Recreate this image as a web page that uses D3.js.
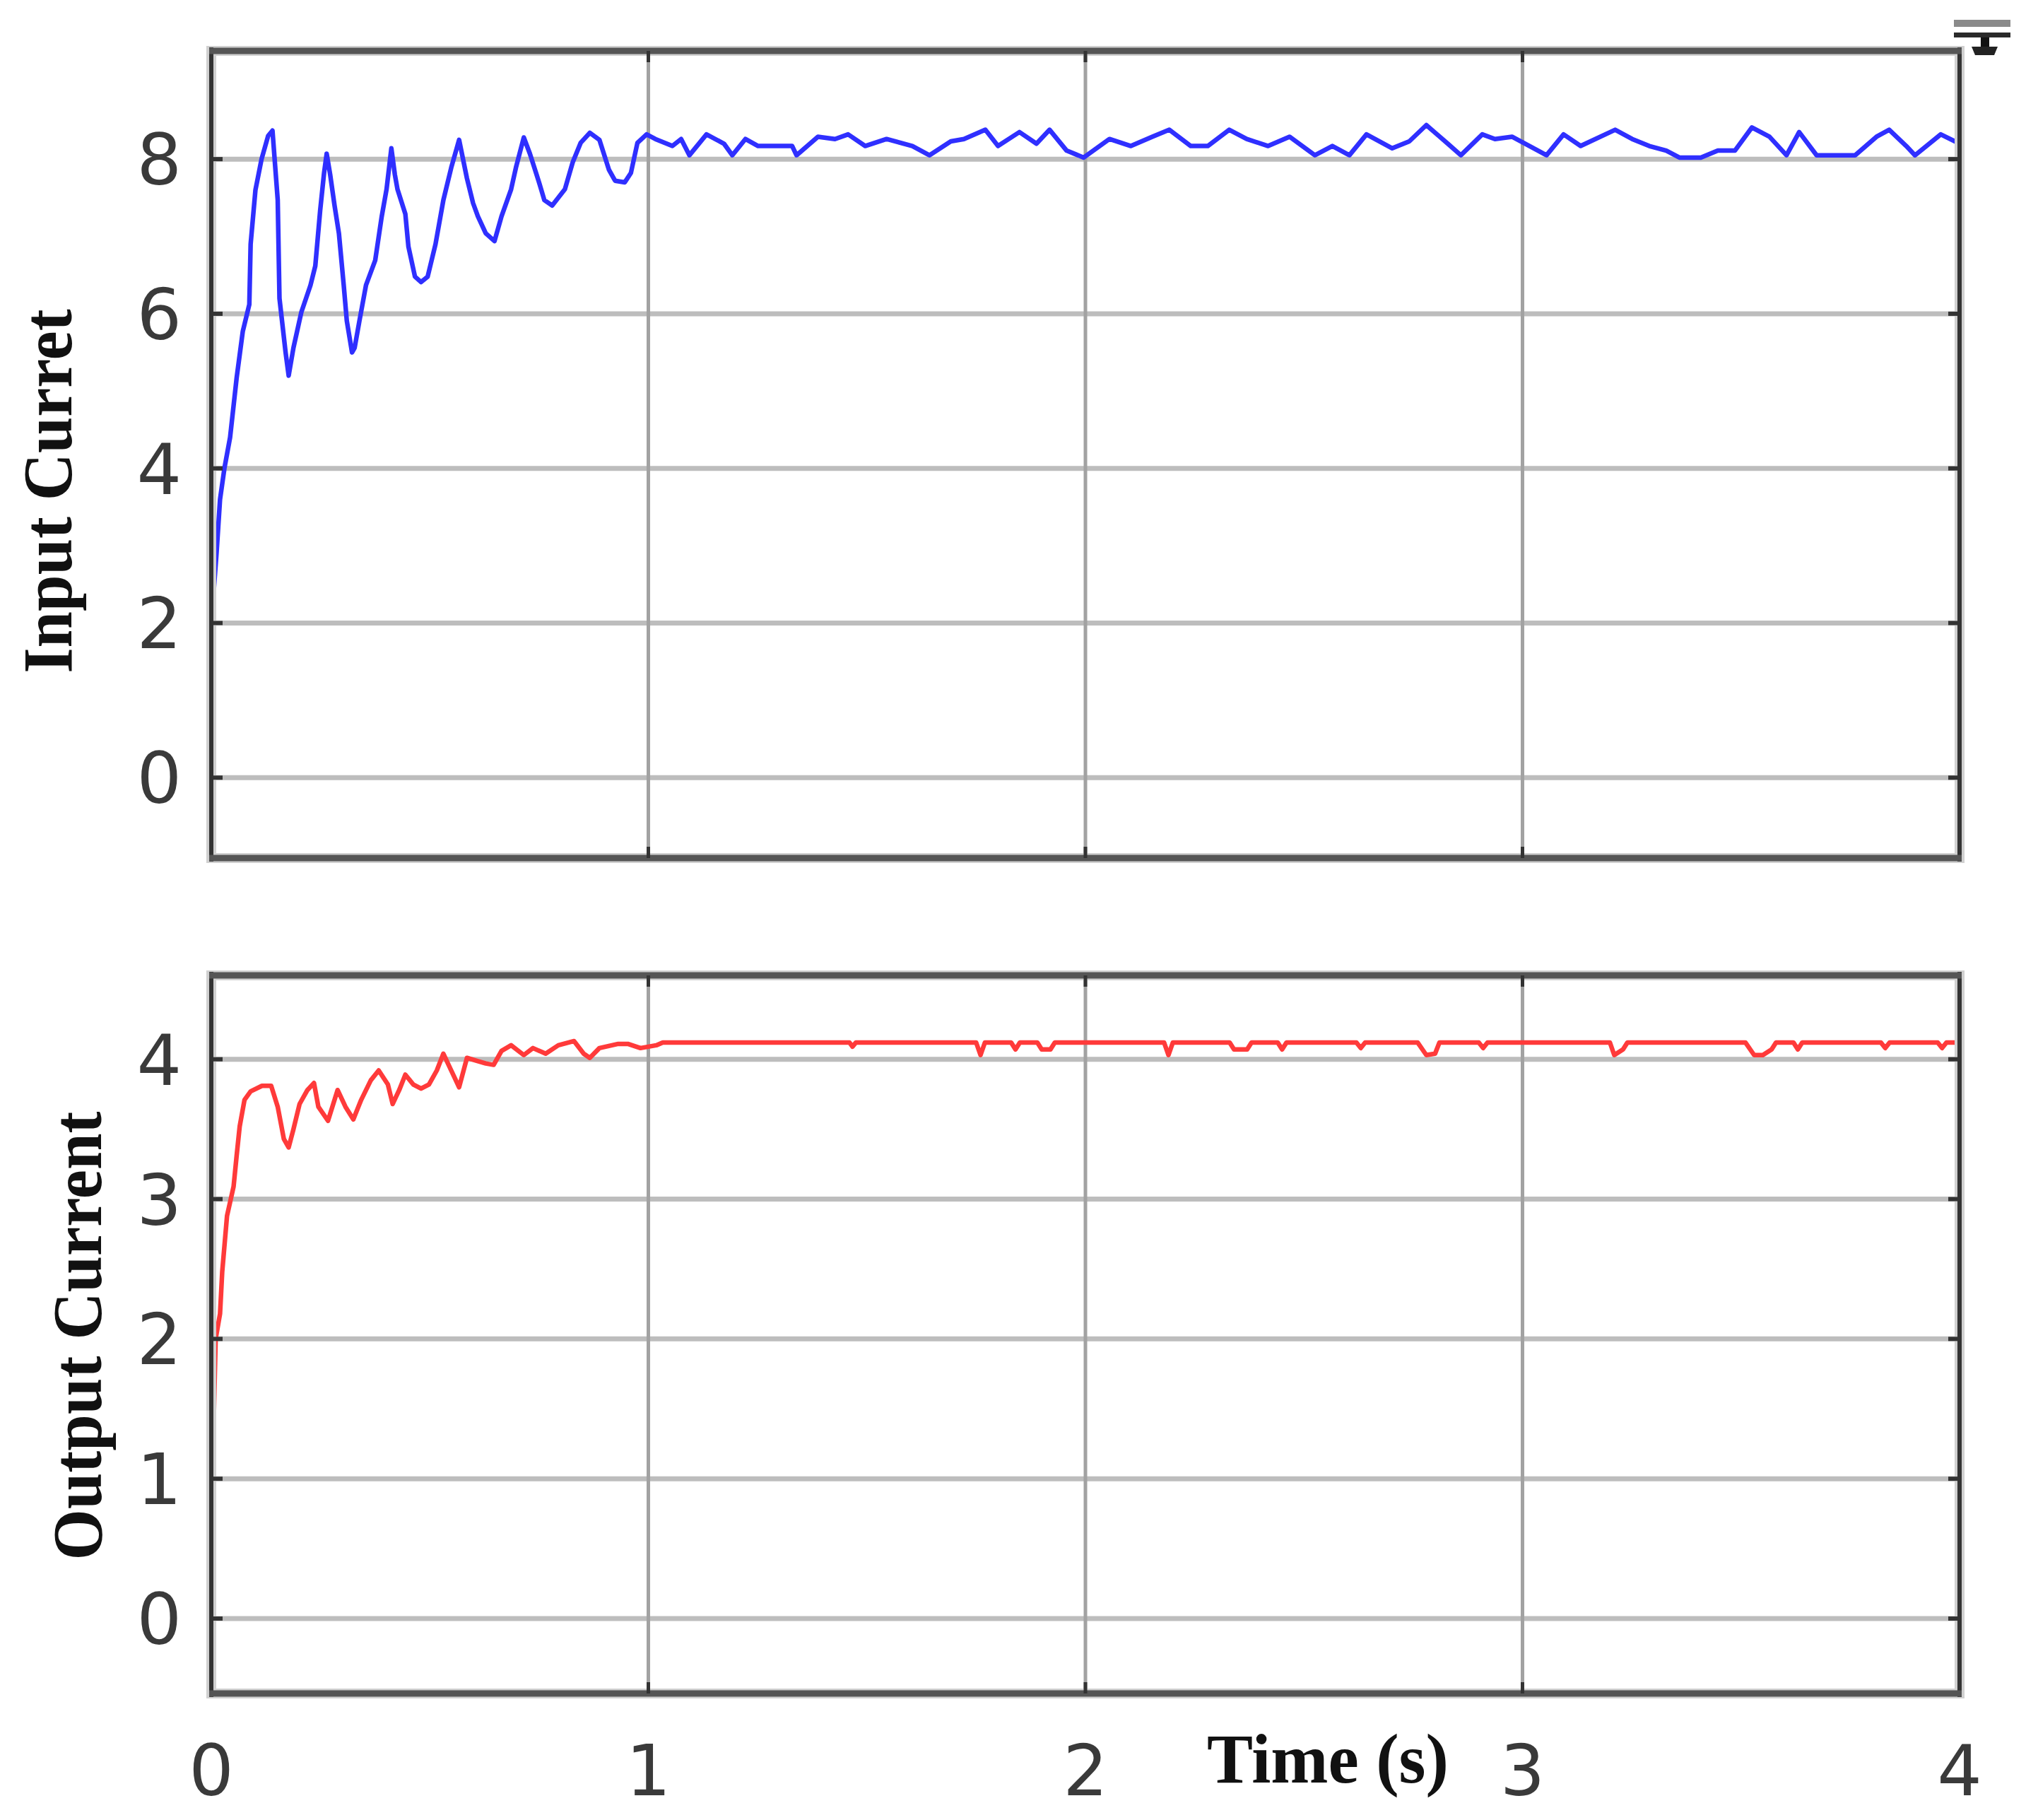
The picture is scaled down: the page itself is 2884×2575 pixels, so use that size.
<!DOCTYPE html>
<html>
<head>
<meta charset="utf-8">
<script src="https://cdn.jsdelivr.net/npm/d3@7"></script>
<style>
  body { margin: 0; background: #fff; }
  svg { display: block; }
</style>
</head>
<body>
<svg class="scope" width="2884" height="2575"></svg>
<script>
// ticks
const timeTicks = [0, 1, 2, 3, 4];
const inputTicks = [0, 2, 4, 6, 8];
const outputTicks = [0, 1, 2, 3, 4];

// input current (blue)
const inputTime = [
  0, 0.002, 0.004, 0.012, 0.02, 0.03, 0.043, 0.058, 0.072, 0.087, 0.09, 0.101, 0.115, 0.13, 0.14,
  0.152, 0.156, 0.17, 0.177, 0.188, 0.206, 0.227, 0.238, 0.249, 0.258, 0.264, 0.272, 0.282, 0.292,
  0.303, 0.31, 0.322, 0.328, 0.339, 0.354, 0.375, 0.39, 0.401, 0.412, 0.42, 0.426, 0.444, 0.451,
  0.466, 0.48, 0.495, 0.513, 0.531, 0.549, 0.567, 0.585, 0.599, 0.61, 0.628, 0.648, 0.664, 0.686,
  0.697, 0.715, 0.729, 0.751, 0.762, 0.78, 0.809, 0.827, 0.845, 0.866, 0.888, 0.91, 0.924, 0.946,
  0.96, 0.975, 0.996, 1.016, 1.055, 1.075, 1.094, 1.133, 1.173, 1.192, 1.222, 1.251, 1.329, 1.339,
  1.388, 1.427, 1.457, 1.496, 1.545, 1.604, 1.643, 1.692, 1.722, 1.771, 1.8, 1.849, 1.888, 1.918,
  1.957, 1.996, 2.055, 2.104, 2.153, 2.192, 2.241, 2.28, 2.329, 2.369, 2.418, 2.467, 2.525, 2.565,
  2.604, 2.643, 2.702, 2.741, 2.78, 2.829, 2.859, 2.908, 2.937, 2.976, 3.016, 3.055, 3.094, 3.133,
  3.212, 3.251, 3.29, 3.329, 3.359, 3.408, 3.447, 3.486, 3.525, 3.565, 3.604, 3.633, 3.673, 3.761,
  3.81, 3.839, 3.878, 3.898, 3.957, 4.0
];
const inputCurrent = [
  0, 0, 2.3, 2.9, 3.6, 4.0, 4.4, 5.17, 5.77, 6.12, 6.9, 7.6, 8.0, 8.3, 8.37,
  7.47, 6.2, 5.5, 5.2, 5.56, 6.02, 6.37, 6.62, 7.33, 7.82, 8.07, 7.8, 7.4, 7.04,
  6.37, 5.91, 5.5, 5.56, 5.91, 6.37, 6.69, 7.26, 7.61, 8.14, 7.8, 7.61, 7.29, 6.87,
  6.48, 6.41, 6.48, 6.9, 7.47, 7.89, 8.25, 7.75, 7.43, 7.26, 7.04, 6.94, 7.26, 7.61,
  7.89, 8.28, 8.07, 7.68, 7.47, 7.4, 7.61, 7.96, 8.21, 8.34, 8.25, 7.86, 7.72, 7.7,
  7.82, 8.21, 8.32, 8.26, 8.17, 8.26, 8.05, 8.32, 8.2, 8.05, 8.26, 8.17, 8.17, 8.05,
  8.29, 8.26, 8.32, 8.17, 8.26, 8.17, 8.05, 8.23, 8.26, 8.38, 8.17, 8.35, 8.2, 8.38,
  8.11, 8.02, 8.26, 8.17, 8.29, 8.38, 8.17, 8.17, 8.38, 8.26, 8.17, 8.29, 8.05, 8.17,
  8.05, 8.32, 8.14, 8.23, 8.44, 8.2, 8.05, 8.32, 8.26, 8.29, 8.17, 8.05, 8.32, 8.17,
  8.38, 8.26, 8.17, 8.11, 8.02, 8.02, 8.11, 8.11, 8.41, 8.29, 8.05, 8.35, 8.05, 8.05,
  8.29, 8.38, 8.17, 8.05, 8.32, 8.2
];

// output current (red)
const outputTime = [
  0, 0.003, 0.005, 0.01, 0.02, 0.025, 0.036, 0.051, 0.058, 0.065, 0.076, 0.09, 0.116, 0.137,
  0.152, 0.166, 0.177, 0.188, 0.202, 0.22, 0.235, 0.245, 0.267, 0.289, 0.307, 0.325, 0.343,
  0.365, 0.383, 0.404, 0.415, 0.43, 0.444, 0.462, 0.48, 0.498, 0.516, 0.531, 0.549, 0.567,
  0.585, 0.606, 0.628, 0.646, 0.664, 0.686, 0.715, 0.736, 0.765, 0.794, 0.83, 0.852, 0.866,
  0.888, 0.931, 0.953, 0.982, 1.018, 1.033,
  1.46, 1.467, 1.475, 1.75, 1.76, 1.77, 1.83, 1.84, 1.85, 1.89, 1.9, 1.92, 1.93,
  2.18, 2.19, 2.2, 2.33, 2.34, 2.37, 2.38, 2.44, 2.45, 2.46, 2.62, 2.63, 2.64,
  2.76, 2.78, 2.8, 2.81, 2.9, 2.91, 2.92, 3.2, 3.21, 3.23, 3.24,
  3.51, 3.53, 3.55, 3.57, 3.58, 3.62, 3.63, 3.64, 3.82, 3.83, 3.84, 3.95, 3.96, 3.97, 4.0
];
const outputCurrent = [
  0, 0, 1.35, 2.0, 2.18, 2.48, 2.88, 3.09, 3.31, 3.52, 3.71, 3.77, 3.81, 3.81,
  3.66, 3.43, 3.37, 3.5, 3.68, 3.78, 3.83, 3.66, 3.56, 3.78, 3.66, 3.57, 3.71,
  3.85, 3.92, 3.82, 3.68, 3.78, 3.89, 3.82, 3.79, 3.82, 3.92, 4.04, 3.92, 3.8,
  4.01, 3.99, 3.97, 3.96, 4.06, 4.1, 4.03, 4.08, 4.04, 4.1, 4.13, 4.04, 4.01,
  4.08, 4.11, 4.11, 4.08, 4.1, 4.12,
  4.12, 4.09, 4.12, 4.12, 4.03, 4.12, 4.12, 4.07, 4.12, 4.12, 4.07, 4.07, 4.12,
  4.12, 4.03, 4.12, 4.12, 4.07, 4.07, 4.12, 4.12, 4.07, 4.12, 4.12, 4.08, 4.12,
  4.12, 4.03, 4.04, 4.12, 4.12, 4.08, 4.12, 4.12, 4.03, 4.07, 4.12,
  4.12, 4.03, 4.03, 4.07, 4.12, 4.12, 4.07, 4.12, 4.12, 4.08, 4.12, 4.12, 4.08, 4.12, 4.12
];

class ScopePanel {
  constructor(svg, cfg) {
    this.svg = svg;
    this.cfg = cfg;

    this.x = d3.scaleLinear().domain([0, 4]).range([cfg.left, cfg.right]);
    this.y = d3.scaleLinear().domain(cfg.yDomain).range([cfg.bottom, cfg.top]);

    this.g = svg.append("g").attr("class", "panel");
  }

  render() {
    this.drawGrid();
    this.drawTrace();
    this.drawFrame();
    this.drawLabels();
  }

  drawGrid() {
    const { left, right, top, bottom } = this.cfg;
    const grid = this.g.append("g").attr("class", "grid");

    grid.selectAll("line.h")
      .data(this.cfg.yTicks)
      .join("line")
      .attr("class", "h")
      .attr("x1", left).attr("x2", right)
      .attr("y1", d => this.y(d)).attr("y2", d => this.y(d))
      .attr("stroke", "#bdbdbd")
      .attr("stroke-width", 7);

    grid.selectAll("line.v")
      .data(timeTicks.slice(1, -1))
      .join("line")
      .attr("class", "v")
      .attr("x1", d => this.x(d)).attr("x2", d => this.x(d))
      .attr("y1", top).attr("y2", bottom)
      .attr("stroke", "#a2a2a2")
      .attr("stroke-width", 5);
  }

  drawTrace() {
    const pts = this.cfg.time.map((t, i) => [t, this.cfg.values[i]]);
    const line = d3.line()
      .x(d => this.x(d[0]))
      .y(d => this.y(d[1]));

    this.g.append("path")
      .datum(pts)
      .attr("fill", "none")
      .attr("stroke", this.cfg.color)
      .attr("stroke-width", 6.5)
      .attr("stroke-linejoin", "round")
      .attr("d", line);
  }

  drawFrame() {
    const { left, right, top, bottom } = this.cfg;
    const frame = this.g.append("g").attr("class", "frame");

    // soft halo round the box, then the box itself
    frame.append("rect")
      .attr("x", left).attr("y", top)
      .attr("width", right - left).attr("height", bottom - top)
      .attr("fill", "none")
      .attr("stroke", "#d0d0d0")
      .attr("stroke-width", 14);

    [left, right].forEach(xx => {
      frame.append("line")
        .attr("x1", xx).attr("x2", xx)
        .attr("y1", top - 5).attr("y2", bottom + 5)
        .attr("stroke", "#333")
        .attr("stroke-width", 6);
    });
    [top, bottom].forEach(yy => {
      frame.append("line")
        .attr("x1", left - 3).attr("x2", right + 3)
        .attr("y1", yy).attr("y2", yy)
        .attr("stroke", "#555")
        .attr("stroke-width", 9);
    });

    // inward ticks on all four sides
    const tl = 16;
    frame.selectAll("line.yt")
      .data(this.cfg.yTicks.flatMap(d => [[d, left, left + tl], [d, right, right - tl]]))
      .join("line")
      .attr("class", "yt")
      .attr("x1", d => d[1]).attr("x2", d => d[2])
      .attr("y1", d => this.y(d[0])).attr("y2", d => this.y(d[0]))
      .attr("stroke", "#333")
      .attr("stroke-width", 6);

    frame.selectAll("line.xt")
      .data(timeTicks.slice(1, -1).flatMap(d => [[d, top, top + tl], [d, bottom, bottom - tl]]))
      .join("line")
      .attr("class", "xt")
      .attr("x1", d => this.x(d[0])).attr("x2", d => this.x(d[0]))
      .attr("y1", d => d[1]).attr("y2", d => d[2])
      .attr("stroke", "#333")
      .attr("stroke-width", 5);
  }

  drawLabels() {
    const cfg = this.cfg;
    this.g.append("g")
      .selectAll("text")
      .data(cfg.yTicks)
      .join("text")
      .attr("x", cfg.left - 42)
      .attr("y", d => this.y(d) + 36)
      .attr("text-anchor", "end")
      .attr("font-family", "DejaVu Sans")
      .attr("font-size", 100)
      .attr("fill", "#3a3a3a")
      .text(d => d);

    this.g.append("text")
      .attr("transform", `translate(${cfg.titleX}, ${cfg.titleY}) rotate(-90)`)
      .attr("text-anchor", "middle")
      .attr("font-family", "Liberation Serif")
      .attr("font-weight", "bold")
      .attr("font-size", 100)
      .attr("textLength", cfg.titleLength)
      .attr("lengthAdjust", "spacingAndGlyphs")
      .attr("fill", "#111")
      .text(cfg.title);
  }
}

const svg = d3.select("svg.scope");

const inputPanel = new ScopePanel(svg, {
  left: 299, right: 2773, top: 72, bottom: 1214,
  yDomain: [-1.04, 9.4],
  yTicks: inputTicks,
  time: inputTime, values: inputCurrent,
  color: "#2f2fff",
  title: "Input Curret", titleX: 101, titleY: 695, titleLength: 515
});
inputPanel.render();

const outputPanel = new ScopePanel(svg, {
  left: 299, right: 2773, top: 1380, bottom: 2396,
  yDomain: [-0.536, 4.6],
  yTicks: outputTicks,
  time: outputTime, values: outputCurrent,
  color: "#ff3a3a",
  title: "Output Current", titleX: 143, titleY: 1890, titleLength: 635
});
outputPanel.render();

// shared time axis labels under the lower panel
svg.append("g")
  .selectAll("text")
  .data(timeTicks)
  .join("text")
  .attr("x", d => outputPanel.x(d))
  .attr("y", 2540)
  .attr("text-anchor", "middle")
  .attr("font-family", "DejaVu Sans")
  .attr("font-size", 100)
  .attr("fill", "#3a3a3a")
  .text(d => d);

svg.append("text")
  .attr("x", 1708)
  .attr("y", 2522)
  .attr("font-family", "Liberation Serif")
  .attr("font-weight", "bold")
  .attr("font-size", 100)
  .attr("textLength", 342)
  .attr("lengthAdjust", "spacingAndGlyphs")
  .attr("fill", "#111")
  .text("Time (s)");

// little dock icon at the top right corner of the scope window
const icon = svg.append("g").attr("class", "dock-icon");
icon.append("rect").attr("x", 2765).attr("y", 28).attr("width", 80).attr("height", 10).attr("fill", "#8a8a8a");
icon.append("rect").attr("x", 2765).attr("y", 46).attr("width", 80).attr("height", 7).attr("fill", "#2a2a2a");
icon.append("rect").attr("x", 2803).attr("y", 53).attr("width", 12).attr("height", 14).attr("fill", "#111");
icon.append("path").attr("d", "M2790,66 L2827,66 L2822,78 L2795,78 Z").attr("fill", "#222");
</script>
</body>
</html>
